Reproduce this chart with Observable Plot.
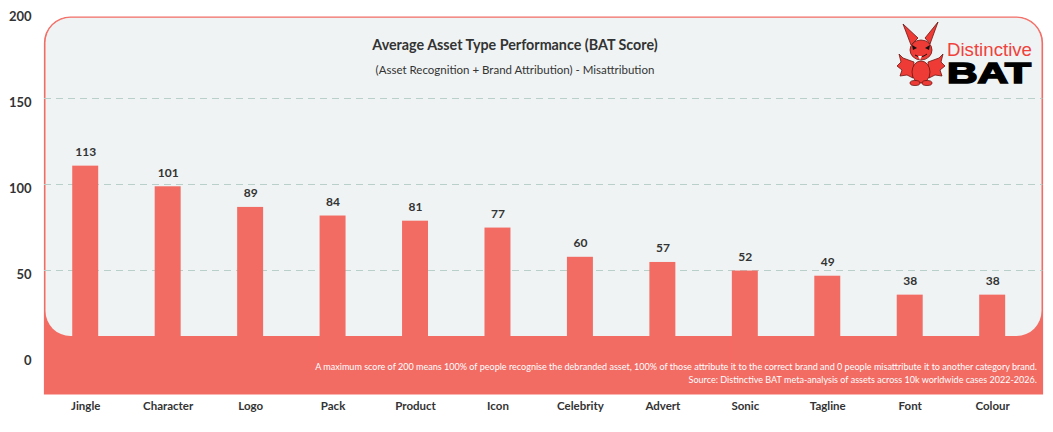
<!DOCTYPE html>
<html>
<head>
<meta charset="utf-8">
<script src="https://cdn.jsdelivr.net/npm/d3@7"></script>
<script src="https://cdn.jsdelivr.net/npm/@observablehq/plot@0.6"></script>
<style>
  html, body { margin: 0; padding: 0; background: #ffffff; }
  #chart svg { display: block; }
</style>
</head>
<body>
<div id="chart"></div>
<script>
// Average BAT score per distinctive asset type
const assets = ["Jingle", "Character", "Logo", "Pack", "Product", "Icon", "Celebrity", "Advert", "Sonic", "Tagline", "Font", "Colour"];
const scores = [113, 101, 89, 84, 81, 77, 60, 57, 52, 49, 38, 38];
const yTicks = [0, 50, 100, 150, 200];
const gridTicks = [50, 100, 150];

const title = "Average Asset Type Performance (BAT Score)";
const subtitle = "(Asset Recognition + Brand Attribution) - Misattribution";
const notes = [
  "A maximum score of 200 means 100% of people recognise the debranded asset, 100% of those attribute it to the correct brand and 0 people misattribute it to another category brand.",
  "Source: Distinctive BAT meta-analysis of assets across 10k worldwide cases 2022-2026."
];

const RED = "#F36C64";
const PANEL = "#EFF3F4";
const INK = "#333333";
const FONT = "Lato, 'Open Sans', sans-serif";

const data = assets.map((asset, i) => ({asset, score: scores[i]}));

const W = 1053, H = 432;

const chart = Plot.plot({
  width: W,
  height: H,
  marginLeft: 44,
  marginRight: 19.6,
  marginTop: 16,
  marginBottom: 72,
  style: {fontFamily: FONT, color: INK, background: "transparent", overflow: "visible"},
  x: {domain: assets, paddingInner: 0.685, paddingOuter: 0.3425, round: false, label: null},
  y: {domain: [0, 200], label: null},
  marks: [
    Plot.ruleY(gridTicks, {stroke: "#b8cfca", strokeDasharray: "7,5", strokeWidth: 1, dy: -4, insetRight: -9}),
    Plot.barY(data, {x: "asset", y: "score", fill: RED}),
    Plot.text(data, {x: "asset", y: "score", text: d => String(d.score), dy: -14, fontWeight: "bold", fontSize: 12, fill: INK}),
    Plot.axisY({ticks: yTicks, tickSize: 0, tickPadding: 13, fontWeight: "bold", fontSize: 13, label: null}),
    Plot.axisX({tickSize: 0, tickPadding: 41, fontWeight: "bold", fontSize: 11.5, label: null})
  ]
});

document.getElementById("chart").appendChild(chart);

const svg = d3.select(chart);

// Rounded panel behind the marks: red body with a light inner card
const bg = svg.insert("g", ":first-child");
const L = 44.5, R = 1042.5, T = 17, B = 394, r = 26;
bg.append("path")
  .attr("d", `M${L},${B} V${T + r} A${r},${r} 0 0 1 ${L + r},${T} H${R - r} A${r},${r} 0 0 1 ${R},${T + r} V${B} Z`)
  .attr("fill", RED)
  .attr("stroke", RED)
  .attr("stroke-width", 1.2);
bg.append("rect")
  .attr("x", L + 1).attr("y", T + 0.8)
  .attr("width", R - L - 2).attr("height", 336 - T - 0.8)
  .attr("rx", r - 1).attr("ry", r - 1)
  .attr("fill", PANEL);

// Titles
const texts = svg.append("g").attr("font-family", FONT);
texts.append("text")
  .attr("x", 515).attr("y", 46)
  .attr("text-anchor", "middle").attr("dominant-baseline", "middle")
  .attr("font-size", 14.3).attr("font-weight", "bold").attr("fill", INK)
  .text(title);
texts.append("text")
  .attr("x", 515).attr("y", 71)
  .attr("text-anchor", "middle").attr("dominant-baseline", "middle")
  .attr("font-size", 11.5).attr("fill", INK)
  .text(subtitle);

// Footnotes in the red band
notes.forEach((t, i) => {
  texts.append("text")
    .attr("x", 1037).attr("y", 368 + i * 12.5)
    .attr("text-anchor", "end").attr("dominant-baseline", "middle")
    .attr("font-size", 9.05).attr("fill", "#ffffff")
    .text(t);
});

// Brand mark: bat mascot with wordmark
const logo = svg.append("g").attr("text-anchor", "start");
const batRed = "#EE3B36", batLine = "#6b1512";
const bat = logo.append("g").attr("fill", batRed).attr("stroke", batLine).attr("stroke-width", 0.8).attr("stroke-linejoin", "round");
// wings
bat.append("path").attr("d", "M914,62 L903,58 L899,54 L901,62 L897,66 L902,70 L900,76 L907,75 L913,78 Z");
bat.append("path").attr("d", "M928,62 L939,58 L943,54 L941,62 L945,66 L940,70 L942,76 L935,75 L929,78 Z");
// ears
bat.append("path").attr("d", "M911,45 L903,24 L918,38 Z");
bat.append("path").attr("d", "M930,44 L938,22 L925,38 Z");
// body and feet
bat.append("ellipse").attr("cx", 921).attr("cy", 72).attr("rx", 9).attr("ry", 11);
bat.append("ellipse").attr("cx", 915).attr("cy", 83).attr("rx", 5).attr("ry", 2.5);
bat.append("ellipse").attr("cx", 927).attr("cy", 83).attr("rx", 5).attr("ry", 2.5);
// head
bat.append("ellipse").attr("cx", 921).attr("cy", 50).attr("rx", 11).attr("ry", 10);
// face
logo.append("path").attr("d", "M912,45 L917,48 L913,50 Z").attr("fill", "#111");
logo.append("path").attr("d", "M930,45 L925,48 L929,50 Z").attr("fill", "#111");
logo.append("path").attr("d", "M915,55 Q921,59 927,54").attr("fill", "none").attr("stroke", "#111").attr("stroke-width", 1);
logo.append("path").attr("d", "M918,56 L920,60 L922,56").attr("fill", "#fff").attr("stroke", "none");

logo.append("text")
  .attr("x", 947).attr("y", 56)
  .attr("text-anchor", "start")
  .attr("font-family", "'Liberation Sans', Arial, sans-serif")
  .attr("font-size", 18.5).attr("fill", "#F0413B")
  .attr("textLength", 85).attr("lengthAdjust", "spacingAndGlyphs")
  .text("Distinctive");
logo.append("text")
  .attr("x", 947).attr("y", 83)
  .attr("text-anchor", "start")
  .attr("font-family", "'Liberation Sans', Arial, sans-serif")
  .attr("font-size", 29).attr("font-weight", "bold").attr("fill", "#000")
  .attr("stroke", "#000").attr("stroke-width", 1.6)
  .attr("textLength", 84).attr("lengthAdjust", "spacingAndGlyphs")
  .text("BAT");
</script>
</body>
</html>
